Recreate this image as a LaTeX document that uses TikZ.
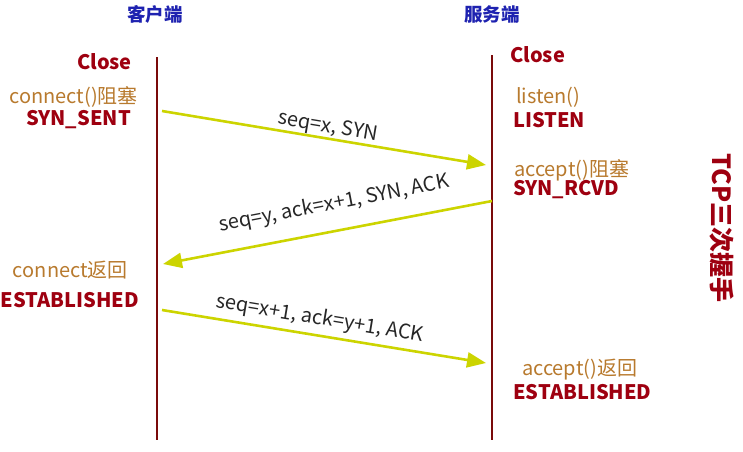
\documentclass[tikz,border=0pt]{standalone}
\usepackage{fontspec}
\setmainfont{Noto Sans CJK SC}
\usetikzlibrary{arrows.meta}
\definecolor{dred}{HTML}{9E0010}
\definecolor{lred}{HTML}{7A0A0A}
\definecolor{brn}{HTML}{B87A2E}
\definecolor{tblue}{HTML}{1E22B0}
\definecolor{ygreen}{HTML}{CCD400}
\tikzset{
  life/.style={draw=lred,line width=2.2pt},
  msg/.style={draw=ygreen,line width=2.6pt,-{Triangle[length=19pt,width=15pt]}},
  title/.style={font=\bfseries\fontsize{18.5}{20}\selectfont,text=tblue,inner sep=0pt},
  state/.style={font=\bfseries\fontsize{20}{22}\selectfont,text=dred,inner sep=0pt},
  call/.style={font=\fontsize{20}{22}\selectfont,text=brn,inner sep=0pt},
  lbl/.style={font=\fontsize{20}{22}\selectfont,text=black!85,inner sep=0pt},
}
\begin{document}
\begin{tikzpicture}[x=1pt,y=-1pt]
\useasboundingbox (0,0) rectangle (743,451);
% lifelines
\coordinate (ct) at (157,57);
\coordinate (cb) at (157,440);
\coordinate (st) at (492,55);
\coordinate (sb) at (492,440);
\draw[life] (ct) -- (cb);
\draw[life] (st) -- (sb);
% titles
\node[title] (tc) at (155,14) {客户端};
\node[title] (ts) at (492,14) {服务端};
% client side
\node[state,anchor=east] (c1) at (132,62) {Close};
\node[call,anchor=east] (c2) at (138,97) {connect()阻塞};
\node[state,anchor=east] (c3) at (131,120) {SYN\_SENT};
\node[call,anchor=east] (c4) at (128,270) {connect返回};
\node[state,anchor=east] (c5) at (139,300) {ESTABLISHED};
% server side
\node[state,anchor=west] (s1) at (510,55) {Close};
\node[call,anchor=west] (s2) at (516,97) {listen()};
\node[state,anchor=west] (s3) at (513,120) {LISTEN};
\node[call,anchor=west] (s4) at (514,170) {accept()阻塞};
\node[state,anchor=west] (s5) at (513,190) {SYN\_RCVD};
\node[call,anchor=west] (s6) at (522,370) {accept()返回};
\node[state,anchor=west] (s7) at (513,392) {ESTABLISHED};
% side title
\node[font=\bfseries\fontsize{25}{27}\selectfont,text=dred,rotate=-90,inner sep=0pt] (tcp) at (722,228) {TCP三次握手};
% messages
\coordinate (m1s) at (162,111);
\coordinate (m1e) at (486,165);
\coordinate (m2s) at (492,201);
\coordinate (m2e) at (163,264);
\coordinate (m3s) at (162,310);
\coordinate (m3e) at (486,363);
\draw[msg] (m1s) -- (m1e);
\draw[msg] (m2s) -- (m2e);
\draw[msg] (m3s) -- (m3e);
\node[lbl,rotate=-9.5] (l1) at (328,127) {seq=x, SYN};
\node[lbl,rotate=10.9] (l2) at (334,204) {seq=y, ack=x+1, SYN, ACK};
\node[lbl,rotate=-9.4] (l3) at (320,319) {seq=x+1, ack=y+1, ACK};
\end{tikzpicture}
\end{document}
